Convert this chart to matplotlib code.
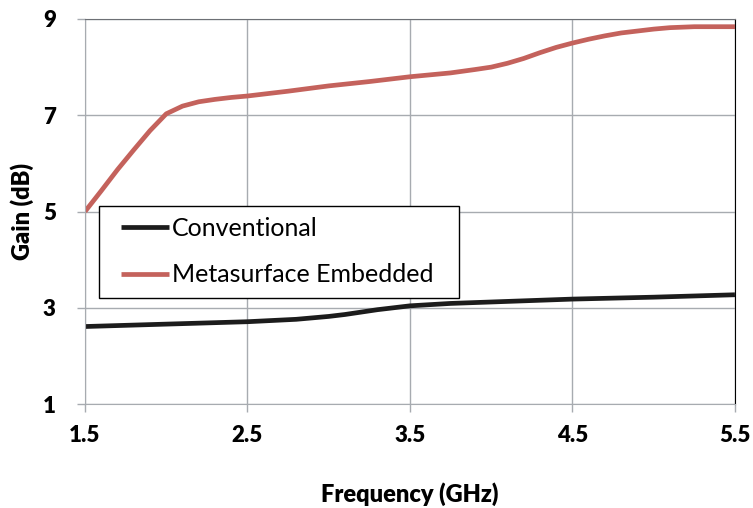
import matplotlib
matplotlib.use("Agg")
import matplotlib.pyplot as plt
from matplotlib.patches import Rectangle

freq_meta = [1.5, 1.6, 1.7, 1.8, 1.9, 2.0, 2.1, 2.2, 2.3, 2.4, 2.5, 2.75, 3.0, 3.25, 3.5, 3.75, 3.9, 4.0,
             4.1, 4.2, 4.3, 4.4, 4.5, 4.6, 4.7, 4.8, 4.9, 5.0, 5.1, 5.25, 5.5]
gain_meta = [5.0, 5.43, 5.87, 6.28, 6.68, 7.03, 7.19, 7.28, 7.33, 7.37, 7.40, 7.50, 7.61, 7.70, 7.80, 7.88, 7.95, 8.0,
             8.08, 8.18, 8.30, 8.41, 8.50, 8.58, 8.65, 8.71, 8.75, 8.79, 8.82, 8.84, 8.84]

freq_conv = [1.5, 2.0, 2.5, 2.8, 3.0, 3.1, 3.2, 3.3, 3.4, 3.5, 3.75, 4.0, 4.5, 5.0, 5.5]
gain_conv = [2.61, 2.66, 2.71, 2.76, 2.82, 2.86, 2.91, 2.96, 3.0, 3.04, 3.09, 3.12, 3.18, 3.22, 3.27]

xticks = [1.5, 2.5, 3.5, 4.5, 5.5]
yticks = [1, 3, 5, 7, 9]

plt.rcParams['font.family'] = ['Lato', 'DejaVu Sans']

fig = plt.figure(figsize=(7.53, 5.08), dpi=100)
ax = fig.add_axes([0.1129, 0.2047, 0.976 - 0.1129, 0.9626 - 0.2047])

ax.plot(freq_conv, gain_conv, color='#1c1c1c', lw=3.4, label='Conventional', solid_capstyle='butt')
ax.plot(freq_meta, gain_meta, color='#C4625C', lw=3.4, label='Metasurface Embedded', solid_capstyle='butt')

ax.set_xlim(1.5, 5.5)
ax.set_ylim(1, 9)
ax.set_xticks(xticks)
ax.set_yticks(yticks)
ax.set_xticklabels([f"{v}" for v in xticks], fontsize=16, fontweight='heavy')
ax.set_yticklabels([f"{v}" for v in yticks], fontsize=16, fontweight='heavy')
ax.grid(True, color='#A7ABB0', lw=1.0)
ax.tick_params(axis='both', length=6, width=1.0, color='#A7ABB0')
ax.tick_params(axis='y', pad=15)
ax.tick_params(axis='x', pad=9)
for s in ['left', 'bottom']:
    ax.spines[s].set_color('#A7ABB0')
ax.spines['top'].set_color('#6d7075')
ax.spines['right'].set_color('#000000')

ax.set_xlabel('Frequency (GHz)', fontsize=17, fontweight='heavy', labelpad=26)
ax.set_ylabel('Gain (dB)', fontsize=17, fontweight='heavy', va='center')
ax.yaxis.set_label_coords(-0.097, 0.5)

leg = ax.legend(loc='center left', bbox_to_anchor=(0.0555, 0.396),
                fontsize=18, frameon=False, handlelength=1.9,
                borderaxespad=0, labelspacing=0.95, handletextpad=0.15, borderpad=0.0)
ax.add_patch(Rectangle((0.0215, 0.2753), 0.554, 0.239, transform=ax.transAxes,
                       facecolor='white', edgecolor='#000000', lw=1.0, zorder=4.5))

fig.savefig('out.png', dpi=100)
